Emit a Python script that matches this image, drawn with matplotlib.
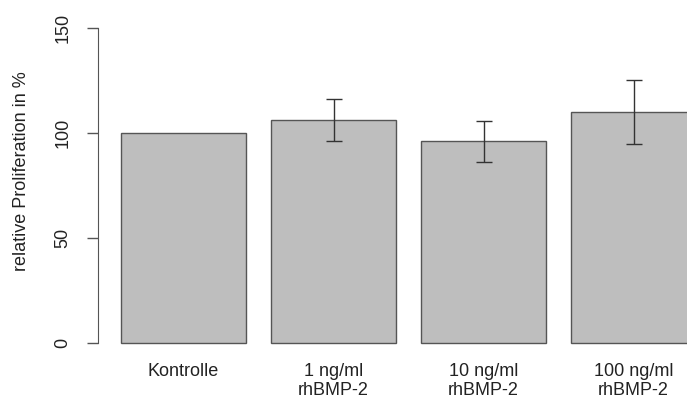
import matplotlib.pyplot as plt
import numpy as np

plt.rcParams['font.family'] = ['Liberation Sans', 'DejaVu Sans']

groups = ['Kontrolle', '1 ng/ml\nrhBMP-2', '10 ng/ml\nrhBMP-2', '100 ng/ml\nrhBMP-2']
means = [100.0, 106.2, 96.0, 110.0]
sds = [None, 10.0, 9.9, 15.3]

# barplot layout: width 1, space 0.2, axis range padded by 4%
width = 1.0
space = 0.2
lefts = space + np.arange(len(groups)) * (width + space)
mids = lefts + width / 2
xlo, xhi = lefts[0], lefts[-1] + width
pad = 0.04 * (xhi - xlo)

fs = 13

fig = plt.figure(figsize=(6.87, 4.0), dpi=100)
ax = fig.add_axes([98 / 687, 0.111, 621 / 687, 0.8505])

ax.bar(mids, means, width=width, color='#bebebe', edgecolor='#555555', linewidth=1.0, zorder=2)

for x, m, s in zip(mids, means, sds):
    if s is None:
        continue
    ax.errorbar(x, m, yerr=s, fmt='none', ecolor='#333333', elinewidth=1.0,
                capsize=6, capthick=1.0, zorder=3)

ax.set_xlim(xlo - pad, xhi + pad)
ax.set_ylim(-6, 156)

for side in ['top', 'right', 'bottom']:
    ax.spines[side].set_visible(False)
ax.spines['left'].set_bounds(0, 150)
ax.spines['left'].set_color('#555555')

ax.set_yticks([0, 50, 100, 150])
ax.tick_params(axis='y', length=8, width=1, color='#555555', labelsize=fs,
               labelcolor='#222222', pad=11)
for lab in ax.get_yticklabels():
    lab.set_rotation(90)
    lab.set_va('center')

ax.set_xticks(mids)
ax.set_xticklabels(groups, fontsize=fs, color='#222222', linespacing=1.2)
ax.tick_params(axis='x', length=0, pad=5)

ax.set_ylabel('relative Proliferation in %', fontsize=fs, color='#222222')
ax.yaxis.set_label_coords(-0.109, 0.541)

plt.savefig('out.png', dpi=100)
